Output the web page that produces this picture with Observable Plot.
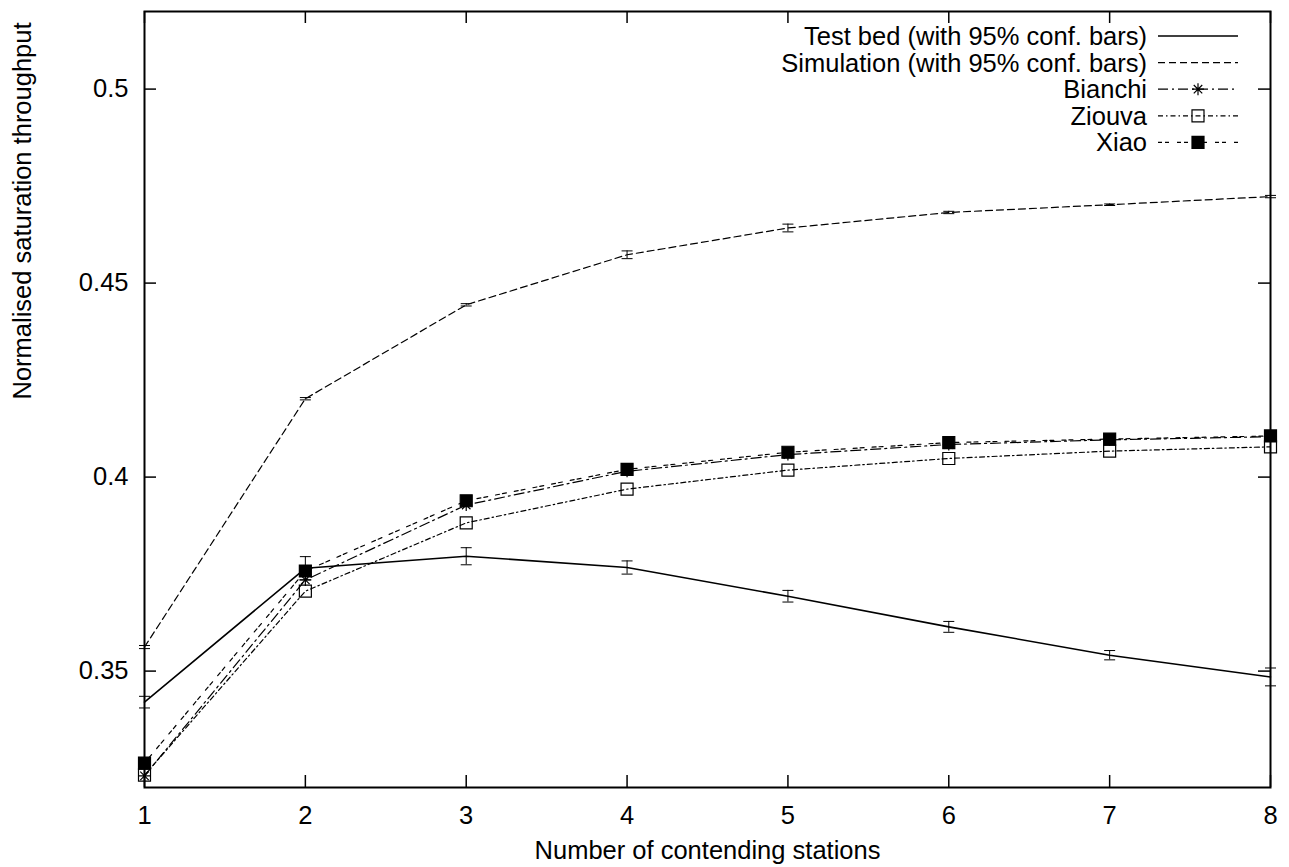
<!DOCTYPE html>
<html><head><meta charset="utf-8">
<script src="https://cdn.jsdelivr.net/npm/d3@7"></script>
<script src="https://cdn.jsdelivr.net/npm/@observablehq/plot@0.6"></script>
<style>
body{margin:0;background:#fff;}
#chart{position:relative;width:1289px;height:867px;font-family:"Liberation Sans",Arial,Helvetica,sans-serif;}
#legend{position:absolute;left:0;top:0;pointer-events:none;}
</style></head><body><div id="chart"></div>
<script>
// ---- data ----
const stations = [1, 2, 3, 4, 5, 6, 7, 8];
const testbed = [0.3420, 0.3765, 0.3796, 0.3767, 0.3693, 0.3614, 0.3541, 0.3485];
const testbedErr = [0.0015, 0.0030, 0.0022, 0.0017, 0.0015, 0.0014, 0.0012, 0.0023];
const simulation = [0.3562, 0.4202, 0.4444, 0.4573, 0.4642, 0.4682, 0.4702, 0.4723];
const simulationErr = [0.0004, 0.0003, 0.0003, 0.0010, 0.0010, 0.0003, 0.0002, 0.0003];
const bianchi = [0.3230, 0.3735, 0.3928, 0.4015, 0.4058, 0.4084, 0.4096, 0.4104];
const ziouva = [0.3232, 0.3706, 0.3882, 0.3969, 0.4018, 0.4048, 0.4067, 0.4078];
const xiao = [0.3263, 0.3758, 0.3939, 0.4020, 0.4064, 0.4089, 0.4098, 0.4106];
const seriesNames = ["Test bed (with 95% conf. bars)", "Simulation (with 95% conf. bars)", "Bianchi", "Ziouva", "Xiao"];
const xTicks = [1, 2, 3, 4, 5, 6, 7, 8];
const yTicks = [0.35, 0.40, 0.45, 0.50];
const yTickLabels = ["0.35", "0.4", "0.45", "0.5"];
const xLabel = "Number of contending stations";
const yLabel = "Normalised saturation throughput";

// ---- styles ----
const W = 1289, H = 867;
const M = {left: 144, right: 19, top: 11, bottom: 80};
const innerW = W - M.left - M.right, innerH = H - M.top - M.bottom;
const FONT = "Liberation Sans, Arial, Helvetica, sans-serif";
const FS = 25.5;
const TICK = 12;

const asterisk8 = {draw(ctx, size) {
  const r = Math.sqrt(size / Math.PI), d = r * Math.SQRT1_2;
  ctx.moveTo(-r, 0); ctx.lineTo(r, 0); ctx.moveTo(0, -r); ctx.lineTo(0, r);
  ctx.moveTo(-d, -d); ctx.lineTo(d, d); ctx.moveTo(-d, d); ctx.lineTo(d, -d);
}};
const hbar = {draw(ctx, size) { const r = Math.sqrt(size / Math.PI); ctx.moveTo(-r, 0); ctx.lineTo(r, 0); }};
const squareSym = {draw(ctx, size) { const r = Math.sqrt(size / Math.PI); ctx.rect(-r, -r, 2 * r, 2 * r); }};

const seriesStyle = [
  {dash: null, marker: null},
  {dash: "7,4", marker: null},
  {dash: "10,4,2,4", marker: {symbol: asterisk8, fill: "none", stroke: "black", r: 6}},
  {dash: "5,3,1.5,3", marker: {symbol: squareSym, fill: "none", stroke: "black", r: 6}},
  {dash: "4,3,4,8", marker: {symbol: squareSym, fill: "black", stroke: "black", r: 6}}
];

// ---- tables ----
const seriesValues = [testbed, simulation, bianchi, ziouva, xiao];
const tables = seriesValues.map((vals, s) => stations.map((x, i) => ({x, y: vals[i], series: seriesNames[s]})));
const errTables = [[testbed, testbedErr], [simulation, simulationErr]].map(([v, e]) =>
  stations.map((x, i) => ({x, lo: v[i] - e[i], hi: v[i] + e[i]})));

const marks = [];
// error bars
errTables.forEach(t => {
  marks.push(Plot.ruleX(t, {x: "x", y1: "lo", y2: "hi", stroke: "black", strokeWidth: 1}));
  marks.push(Plot.dot(t, {x: "x", y: "lo", symbol: hbar, r: 5.5, stroke: "black", strokeWidth: 1}));
  marks.push(Plot.dot(t, {x: "x", y: "hi", symbol: hbar, r: 5.5, stroke: "black", strokeWidth: 1}));
});
// lines and markers
tables.forEach((t, s) => {
  const st = seriesStyle[s];
  marks.push(Plot.line(t, {x: "x", y: "y", stroke: "black", strokeWidth: s === 0 ? 1.6 : 1.2, strokeDasharray: st.dash}));
  if (st.marker) marks.push(Plot.dot(t, {x: "x", y: "y", symbol: st.marker.symbol, r: st.marker.r, fill: st.marker.fill, stroke: st.marker.stroke, strokeWidth: 1.2}));
});

const chart = Plot.plot({
  width: W, height: H,
  marginLeft: M.left, marginRight: M.right, marginTop: M.top, marginBottom: M.bottom,
  style: {fontFamily: FONT, fontSize: FS + "px", background: "white", color: "black"},
  x: {domain: [1, 8], label: null},
  y: {domain: [0.32, 0.52], label: null},
  marks: [
    ...marks,
    // inward ticks on all four sides
    Plot.ruleX(xTicks, {x: d => d, insetTop: innerH - TICK, stroke: "black", strokeWidth: 1.5}),
    Plot.ruleX(xTicks, {x: d => d, insetBottom: innerH - TICK, stroke: "black", strokeWidth: 1.5}),
    Plot.ruleY(yTicks, {y: d => d, insetRight: innerW - TICK, stroke: "black", strokeWidth: 1.5}),
    Plot.ruleY(yTicks, {y: d => d, insetLeft: innerW - TICK, stroke: "black", strokeWidth: 1.5}),
    Plot.frame({stroke: "black", strokeWidth: 2}),
    Plot.axisX(xTicks, {tickSize: 0, tickPadding: 18, fontSize: FS, label: null, tickFormat: d => String(d)}),
    Plot.axisY(yTicks, {tickSize: 0, tickPadding: 16, fontSize: FS, label: null, tickFormat: d => yTickLabels[yTicks.indexOf(d)]}),
    Plot.text([xLabel], {text: d => d, frameAnchor: "bottom", dy: 63, lineAnchor: "middle", fontSize: FS}),
    Plot.text([yLabel], {text: d => d, frameAnchor: "left", dx: -122, rotate: -90, lineAnchor: "middle", fontSize: FS})
  ]
});
const container = document.getElementById("chart");
container.appendChild(chart);

// ---- legend (overlay, inside the plot frame at top right) ----
const legend = d3.select(container).append("svg").attr("id", "legend").attr("width", W).attr("height", H);
const lgTextX = 1147, lgX1 = 1158, lgX2 = 1238, lgY0 = 36, lgDY = 26.6;
seriesNames.forEach((name, s) => {
  const y = lgY0 + s * lgDY;
  const st = seriesStyle[s];
  legend.append("text").attr("x", lgTextX).attr("y", y).attr("dy", "0.35em").attr("text-anchor", "end")
    .attr("font-family", FONT).attr("font-size", FS).attr("fill", "black").text(name);
  legend.append("line").attr("x1", lgX1).attr("x2", lgX2).attr("y1", y).attr("y2", y)
    .attr("stroke", "black").attr("stroke-width", s === 0 ? 1.6 : 1.2).attr("stroke-dasharray", st.dash);
  if (st.marker) {
    legend.append("path").attr("transform", `translate(${(lgX1 + lgX2) / 2},${y})`)
      .attr("d", d3.symbol(st.marker.symbol, st.marker.r * st.marker.r * Math.PI)())
      .attr("fill", st.marker.fill).attr("stroke", st.marker.stroke).attr("stroke-width", 1.2);
  }
});
</script></body></html>
